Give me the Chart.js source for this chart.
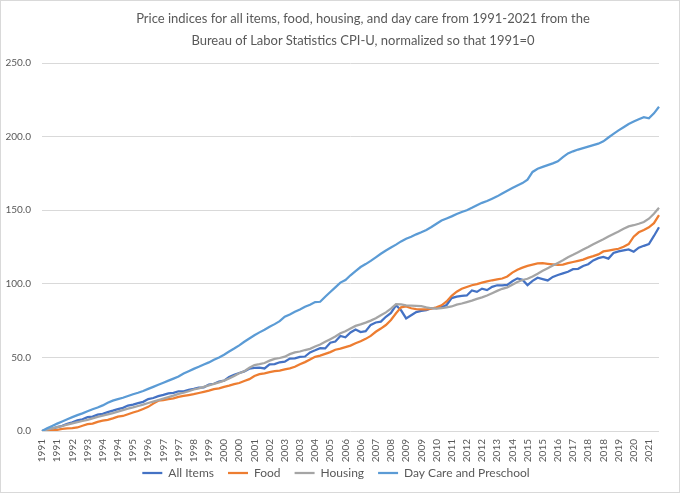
<!DOCTYPE html>
<html>
<head>
<meta charset="utf-8">
<script src="https://cdn.jsdelivr.net/npm/chart.js@4"></script>
<style>
  html, body { margin: 0; padding: 0; background: #ffffff; }
  #wrap { position: relative; width: 680px; height: 493px; box-sizing: border-box; border: 1px solid #D9D9D9; background: #fff; }
  canvas { display: block; }
  #title { position: absolute; left: 44px; width: 636px; top: 6px; text-align: center;
           font-family: Lato, "Open Sans", sans-serif; font-size: 13px; line-height: 22px; color: #595959; }
</style>
</head>
<body>
<div id="wrap"><div id="title"></div><canvas id="c" width="678" height="491"></canvas></div>
<script>
// Tick labels shown along the x axis (one every 9 months, Excel style)
const tickYears = ['1991','1991','1992','1993','1994','1994','1995','1996','1997','1997',
  '1998','1999','2000','2000','2001','2002','2003','2003','2004','2005',
  '2006','2006','2007','2008','2009','2009','2010','2011','2012','2012',
  '2013','2014','2015','2015','2016','2017','2018','2018','2019','2020','2021'];

// Quarterly readings (Jan, Apr, Jul, Oct) from Jan 1991 to Jul 2021, index points above Jan 1991
const allItems = [
  0, 0.6, 1.6, 2.6,   3.5, 4.9, 5.9, 7.2,   8.0, 9.4, 9.8, 11.1,   11.6, 12.8, 13.8, 14.9,
  15.7, 17.3, 17.9, 18.9,   19.8, 21.7, 22.4, 23.7,   24.5, 25.6, 25.9, 27.0,   27.0, 27.9, 28.6, 29.4,
  29.7, 31.6, 32.1, 33.6,   34.2, 36.7, 38.2, 39.4,   40.5, 42.3, 42.9, 43.1,   42.5, 45.2, 45.5, 46.7,
  47.1, 49.2, 49.3, 50.4,   50.6, 53.4, 54.8, 56.3,   56.1, 60.0, 60.8, 64.6,   63.7, 66.9, 68.9, 67.2,
  67.8, 72.1, 73.7, 74.3,   77.6, 80.2, 85.4, 82.0,   76.5, 78.6, 80.8, 81.6,   82.1, 83.4, 83.4, 84.1,
  85.6, 90.3, 91.3, 91.8,   92.1, 95.5, 94.5, 96.7,   95.7, 97.9, 99.0, 98.9,   99.3, 101.7, 103.7, 102.8,
  99.1, 102.0, 104.1, 103.2,   102.3, 104.7, 106.0, 107.1,   108.2, 109.9, 110.2, 112.1,   113.3, 115.9, 117.4, 118.3,
  117.1, 120.9, 122.0, 122.7,   123.4, 121.8, 124.5, 125.8,   127.0, 132.5, 138.4
];
const food = [
  0, 0.6, 0.4, 0.8,   1.4, 1.8, 2.0, 2.4,   3.6, 4.6, 5.0, 6.2,   7.0, 7.6, 8.6, 9.8,
  10.2, 11.4, 12.6, 13.6,   15.0, 16.4, 18.6, 20.6,   21.0, 21.6, 22.2, 23.2,   23.8, 24.4, 25.0, 25.8,
  26.6, 27.4, 28.4, 29.0,   30.0, 30.8, 31.8, 32.6,   34.0, 35.2, 37.4, 38.6,   39.2, 40.0, 40.6, 41.0,
  41.8, 42.6, 43.6, 45.4,   46.8, 48.6, 50.4, 51.2,   52.4, 53.6, 55.2, 56.0,   57.0, 58.0, 59.6, 61.0,
  62.6, 64.6, 67.4, 69.6,   72.0, 75.4, 80.0, 84.0,   84.6, 83.4, 82.8, 82.6,   82.6, 83.2, 84.0, 85.4,
  88.0, 91.8, 94.6, 96.6,   97.8, 99.0, 99.8, 100.8,   101.6, 102.4, 103.0, 103.6,   105.0, 107.6, 109.6, 111.0,
  112.2, 113.0, 113.8, 114.0,   113.6, 113.2, 112.8, 113.0,   114.0, 114.8, 115.6, 116.4,   117.8, 118.8, 120.0, 122.0,
  122.6, 123.2, 123.8, 125.2,   127.0, 132.0, 135.0, 136.6,   138.4, 141.2, 146.7
];
const housing = [
  0, 0.9, 1.8, 2.6,   3.4, 4.3, 5.2, 6.0,   6.8, 7.6, 8.6, 9.6,   10.4, 11.3, 12.2, 13.2,
  14.2, 15.2, 16.0, 17.0,   17.9, 19.0, 20.0, 21.0,   22.0, 23.0, 24.0, 25.2,   26.0, 27.0, 28.2, 29.0,
  30.0, 31.0, 32.0, 33.0,   34.2, 35.6, 37.4, 39.2,   40.6, 43.0, 44.8, 45.4,   46.2, 47.8, 49.0, 49.6,
  50.5, 52.2, 53.4, 54.0,   55.0, 55.8, 57.4, 58.8,   60.6, 62.4, 64.2, 66.4,   67.8, 69.6, 71.4, 72.4,
  73.6, 75.0, 76.6, 78.6,   80.6, 83.2, 86.2, 86.0,   85.4, 85.2, 85.0, 84.8,   84.0, 83.4, 83.2, 83.4,
  84.0, 84.6, 85.8, 86.6,   87.6, 88.6, 89.8, 90.8,   92.0, 93.6, 95.2, 96.6,   97.6, 99.4, 101.2, 102.6,
  103.4, 105.0, 106.8, 108.8,   110.6, 112.4, 114.2, 116.0,   118.0, 119.7, 121.5, 123.3,   125.0, 126.8, 128.6, 130.3,
  132.1, 133.9, 135.6, 137.4,   139.0, 139.8, 140.8, 142.0,   144.2, 147.6, 151.6
];
const dayCare = [
  0, 1.8, 3.4, 5.0,   6.5, 8.0, 9.4, 10.8,   12.0, 13.4, 14.8, 16.0,   17.4, 19.2, 20.6, 21.6,
  22.6, 23.8, 25.0, 26.0,   27.2, 28.6, 30.0, 31.4,   32.8, 34.2, 35.6, 37.0,   39.0, 40.6, 42.2, 43.6,
  45.2, 46.6, 48.4, 50.0,   51.8, 54.0, 56.0, 58.2,   60.6, 62.8, 65.0, 67.0,   68.8, 70.8, 72.6, 74.6,
  77.6, 79.2, 81.0, 82.6,   84.4, 85.8, 87.6, 87.8,   91.2, 94.4, 97.6, 100.8,   102.6, 105.8, 108.6, 111.4,
  113.4, 115.6, 118.0, 120.4,   122.6, 124.6, 126.6, 128.8,   130.6, 132.0, 133.6, 135.0,   136.6, 138.6, 140.8, 143.0,
  144.4, 145.8, 147.4, 148.8,   150.0, 151.6, 153.4, 155.0,   156.2, 157.8, 159.4, 161.4,   163.2, 165.0, 166.8, 168.4,
  170.8, 176.0, 178.2, 179.4,   180.6, 181.8, 183.2, 186.0,   188.6, 190.0, 191.2, 192.2,   193.2, 194.2, 195.2, 196.8,
  199.4, 201.8, 204.2, 206.4,   208.6, 210.2, 211.8, 213.2,   212.4, 215.8, 220.3
];

const seriesNames = ['All Items', 'Food', 'Housing', 'Day Care and Preschool'];
const seriesColors = ['#4472C4', '#ED7D31', '#A5A5A5', '#5B9BD5'];
const titleLines = [
  'Price indices for all items, food, housing, and day care from 1991-2021 from the',
  'Bureau of Labor Statistics CPI-U, normalized so that 1991=0'
];

// title as real HTML text
const titleEl = document.getElementById('title');
titleLines.forEach((t) => { const d = document.createElement('div'); d.textContent = t; titleEl.appendChild(d); });

// one category per quarter; a tick label every third quarter
const labels = allItems.map((_, i) => (i % 3 === 0 ? tickYears[i / 3] : ''));

const seriesData = [allItems, food, housing, dayCare];
const textColor = '#595959';
Chart.defaults.font.family = 'Lato, "Open Sans", "Liberation Sans", sans-serif';
Chart.defaults.color = textColor;

new Chart(document.getElementById('c'), {
  type: 'line',
  data: {
    labels: labels,
    datasets: seriesData.map((d, k) => ({
      label: seriesNames[k],
      data: d,
      borderColor: seriesColors[k],
      backgroundColor: seriesColors[k],
      borderWidth: 2.25,
      pointRadius: 0,
      pointHoverRadius: 0,
      tension: 0,
      fill: false,
      order: 4 - k
    }))
  },
  options: {
    responsive: false,
    animation: false,
    devicePixelRatio: 1,
    layout: { padding: { left: 0, right: 8, top: 62, bottom: 3 } },
    plugins: {
      title: { display: false },
      legend: {
        position: 'bottom',
        labels: {
          usePointStyle: true,
          pointStyle: 'line',
          pointStyleWidth: 20,
          boxHeight: 12,
          color: textColor,
          font: { size: 12 },
          padding: 14,
          sort: (a, b) => a.datasetIndex - b.datasetIndex
        }
      },
      tooltip: { enabled: false }
    },
    scales: {
      x: {
        grid: { display: false, drawTicks: false },
        border: { display: false },
        ticks: {
          autoSkip: false,
          minRotation: 90,
          maxRotation: 90,
          padding: 8,
          color: textColor,
          font: { size: 10 }
        },
        afterFit: (s) => {
          s.height = 22;
          // let the rotated year labels extend below the (compact) axis box
          s._computeLabelArea = () => undefined;
        }
      },
      y: {
        min: 0,
        max: 250,
        grid: { color: '#D9D9D9', drawTicks: false, lineWidth: 1 },
        border: { display: false },
        ticks: {
          stepSize: 50,
          padding: 11,
          color: textColor,
          font: { size: 10 },
          callback: (v) => Number(v).toFixed(1)
        },
        afterFit: (s) => { s.width = 41; }
      }
    }
  }
});
</script>
</body>
</html>
